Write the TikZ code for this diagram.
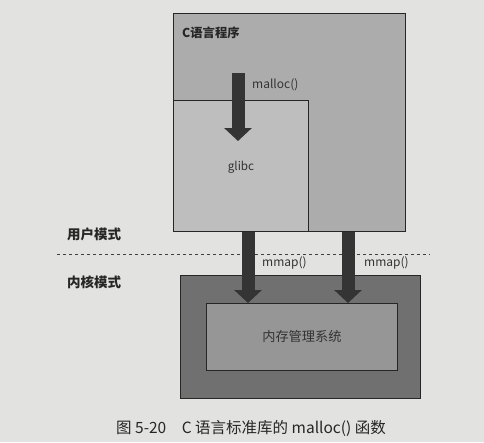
\documentclass[tikz,border=0pt]{standalone}
\usepackage{fontspec}
\setmainfont{Noto Sans CJK SC}
\usetikzlibrary{arrows.meta}
\definecolor{paper}{RGB}{226,226,224}
\definecolor{progfill}{RGB}{172,172,172}
\definecolor{libfill}{RGB}{190,190,190}
\definecolor{kernfill}{RGB}{112,112,112}
\definecolor{memfill}{RGB}{150,150,150}
\definecolor{arrowfill}{RGB}{52,52,52}
\tikzset{
  box/.style={draw=black!85, line width=0.8pt, anchor=north west, inner sep=0pt},
  label/.style={font=\fontsize{12}{14}\selectfont, text=black!80, inner sep=0pt},
  modelabel/.style={font=\bfseries\fontsize{13.5}{15}\selectfont, text=black!85, inner sep=0pt, anchor=west},
  bigarrow/.style={draw=arrowfill, line width=13pt, -{Triangle[width=27pt,length=13pt]}}
}
\begin{document}
\begin{tikzpicture}[x=1pt, y=-1pt]
    \fill [paper] (0,0) rectangle (484,442);
    \useasboundingbox (0,0) rectangle (484,442);
    % user mode boxes
    \node [box, fill=progfill, minimum width=232pt, minimum height=218pt] (cprog) at (173,13) {};
    \node [box, fill=libfill, minimum width=135pt, minimum height=131pt] (glibc) at (173,100) {};
    \node [modelabel, font=\bfseries\fontsize{12.3}{14}\selectfont] (cprogtext) at (182,33) {C语言程序};
    \node [label, font=\fontsize{11.7}{14}\selectfont] (glibctext) at (241,167) {glibc};
    % kernel mode boxes
    \node [box, fill=kernfill, minimum width=240pt, minimum height=123pt] (kernel) at (180,275) {};
    \node [box, fill=memfill, minimum width=191pt, minimum height=67pt] (mem) at (206,303) {};
    \node [label, font=\fontsize{13.2}{15}\selectfont] (memtext) at (mem.center) {内存管理系统};
    % boundary
    \coordinate (lineL) at (57,254);
    \coordinate (lineR) at (430,254);
    \draw [black!75, dashed, line width=0.7pt] (lineL) -- (lineR);
    \node [modelabel] (user) at (67,234) {用户模式};
    \node [modelabel] (kern) at (67,282) {内核模式};
    % calls
    \draw [bigarrow] (238,73) -- (238,141);
    \node [label, anchor=west] (malloc) at (252,85) {malloc()};
    \draw [bigarrow] (248,0 |- cprog.south) -- (248,0 |- mem.north);
    \draw [bigarrow] (348,0 |- cprog.south) -- (348,0 |- mem.north);
    \node [label, anchor=west] (mmapA) at (262,263) {mmap()};
    \node [label, anchor=west] (mmapB) at (364,263) {mmap()};
    % caption
    \node [font=\fontsize{15.5}{18}\selectfont, text=black!85, inner sep=0pt] (caption) at (251,428) {图 5-20\quad C 语言标准库的 malloc() 函数};
\end{tikzpicture}
\end{document}
